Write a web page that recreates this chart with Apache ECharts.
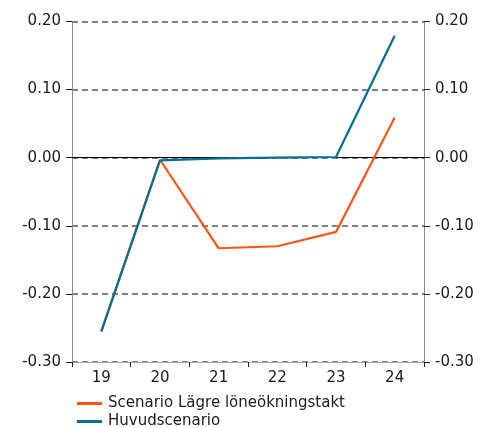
<!DOCTYPE html>
<html>
<head>
<meta charset="utf-8">
<script src="https://cdn.jsdelivr.net/npm/echarts@6/dist/echarts.min.js"></script>
<style>
  html, body { margin: 0; padding: 0; background: #fff; }
  #chart { width: 489px; height: 428px; }
</style>
</head>
<body>
<div id="chart"></div>
<script>
// Year labels along the horizontal axis
const years = ['19', '20', '21', '22', '23', '24'];
// Scenario with lower wage growth
const lowerWageScenario = [-0.255, -0.003, -0.133, -0.130, -0.109, 0.059];
// Main scenario
const mainScenario = [-0.255, -0.004, -0.001, 0.000, 0.001, 0.179];
// Value axis range and step
const yMin = -0.30;
const yMax = 0.20;
const yStep = 0.10;

const FONT = 'DejaVu Sans, Verdana, sans-serif';
const FONT_SIZE = 15;
const ORANGE = '#FF5414';
const BLUE = '#006E96';
const AXIS_GRAY = '#8a8a8a';

function valueAxis(position, showGrid) {
  return {
    type: 'value',
    position: position,
    min: yMin,
    max: yMax,
    interval: yStep,
    axisLine: { show: true, lineStyle: { color: AXIS_GRAY, width: 1 } },
    axisTick: { show: true, length: 6, lineStyle: { color: '#222', width: 1 } },
    axisLabel: {
      color: '#1a1a1a',
      fontFamily: FONT,
      fontSize: FONT_SIZE,
      margin: 11,
      formatter: v => v.toFixed(2)
    },
    splitLine: {
      show: showGrid,
      lineStyle: { color: '#808080', type: [6, 4], width: 1.8 }
    }
  };
}

const chart = echarts.init(document.getElementById('chart'), null, { renderer: 'canvas' });
chart.setOption({
  animation: false,
  backgroundColor: '#fff',
  grid: { left: 72, right: 65, top: 21.5, bottom: 66, containLabel: false },
  xAxis: {
    type: 'category',
    data: years,
    boundaryGap: true,
    axisLine: { show: true, onZero: false, lineStyle: { color: '#aaa', width: 1 } },
    axisTick: { show: true, length: 5, interval: 0, lineStyle: { color: '#222', width: 1 } },
    axisLabel: { color: '#1a1a1a', fontFamily: FONT, fontSize: FONT_SIZE, margin: 9 },
    splitLine: { show: false }
  },
  yAxis: [valueAxis('left', true), valueAxis('right', false)],
  legend: {
    orient: 'vertical',
    left: 77,
    top: 395,
    height: 40,
    padding: 0,
    itemWidth: 25,
    itemHeight: 3,
    itemGap: 1,
    icon: 'rect',
    align: 'left',
    textStyle: { color: '#1a1a1a', fontFamily: FONT, fontSize: FONT_SIZE, padding: [0, 0, 0, 1], lineHeight: 17 },
    data: ['Scenario Lägre löneökningstakt', 'Huvudscenario']
  },
  series: [
    {
      name: 'Scenario Lägre löneökningstakt',
      type: 'line',
      data: lowerWageScenario,
      yAxisIndex: 0,
      symbol: 'none',
      lineStyle: { color: ORANGE, width: 2.2 },
      itemStyle: { color: ORANGE },
      z: 3,
      markLine: {
        silent: true,
        symbol: 'none',
        label: { show: false },
        lineStyle: { color: '#000', type: 'solid', width: 1 },
        data: [{ yAxis: 0 }],
        z: 2
      }
    },
    {
      name: 'Huvudscenario',
      type: 'line',
      data: mainScenario,
      yAxisIndex: 0,
      symbol: 'none',
      lineStyle: { color: BLUE, width: 2.2 },
      itemStyle: { color: BLUE },
      z: 4
    }
  ]
});
</script>
</body>
</html>
